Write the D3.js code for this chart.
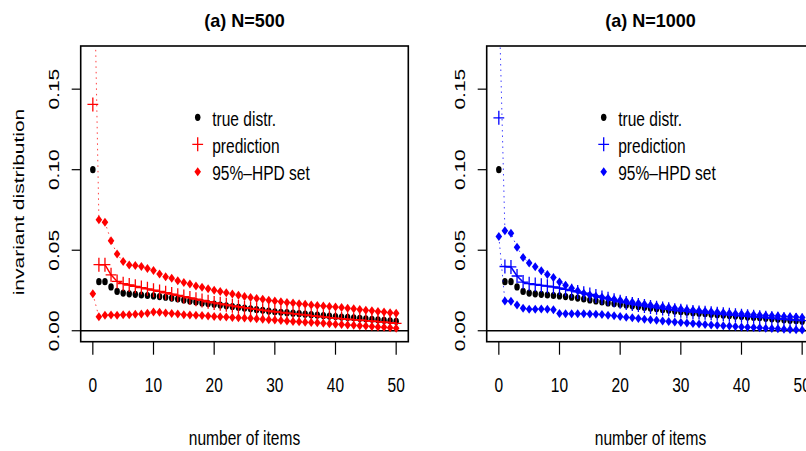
<!DOCTYPE html>
<html>
<head>
<meta charset="utf-8">
<script src="https://cdn.jsdelivr.net/npm/d3@7"></script>
<style>
  html, body { margin: 0; padding: 0; background: #ffffff; }
  svg { display: block; }
  text { font-family: "Liberation Sans", Arial, Helvetica, sans-serif; fill: #000; }
</style>
</head>
<body>
<svg id="chart" width="806" height="451"></svg>
<script>
// ---- data -------------------------------------------------------------
const items = d3.range(0, 51);

// true invariant distribution (same in both panels)
const trueDistr = [
  0.1000, 0.0305, 0.0305, 0.0272, 0.0244, 0.0234, 0.0229, 0.0226, 0.0222, 0.0219,
  0.0216, 0.0212, 0.0208, 0.0203, 0.0197, 0.0191, 0.0185, 0.0179, 0.0173, 0.0169,
  0.0165, 0.0160, 0.0155, 0.0150, 0.0145, 0.0140, 0.0136, 0.0131, 0.0127, 0.0122,
  0.0118, 0.0115, 0.0112, 0.0109, 0.0106, 0.0103, 0.0100, 0.0097, 0.0094, 0.0091,
  0.0088, 0.0085, 0.0083, 0.0080, 0.0077, 0.0074, 0.0071, 0.0068, 0.0065, 0.0062,
  0.0059
];

// N = 500
const predN500 = [
  0.1405, 0.0410, 0.0410, 0.0347, 0.0306, 0.0292, 0.0284, 0.0276, 0.0268, 0.0260,
  0.0252, 0.0244, 0.0236, 0.0228, 0.0220, 0.0212, 0.0204, 0.0196, 0.0188, 0.0180,
  0.0173, 0.0167, 0.0161, 0.0155, 0.0149, 0.0143, 0.0138, 0.0133, 0.0128, 0.0123,
  0.0118, 0.0114, 0.0110, 0.0106, 0.0102, 0.0098, 0.0094, 0.0090, 0.0086, 0.0082,
  0.0078, 0.0075, 0.0072, 0.0069, 0.0066, 0.0063, 0.0060, 0.0057, 0.0054, 0.0050,
  0.0046
];
const upperN500 = [
  0.2700, 0.0689, 0.0673, 0.0559, 0.0476, 0.0430, 0.0409, 0.0405, 0.0399, 0.0386,
  0.0374, 0.0353, 0.0336, 0.0326, 0.0311, 0.0299, 0.0291, 0.0278, 0.0270, 0.0260,
  0.0252, 0.0244, 0.0236, 0.0228, 0.0220, 0.0213, 0.0207, 0.0201, 0.0195, 0.0189,
  0.0184, 0.0180, 0.0176, 0.0172, 0.0168, 0.0164, 0.0160, 0.0157, 0.0154, 0.0151,
  0.0147, 0.0144, 0.0140, 0.0136, 0.0132, 0.0128, 0.0124, 0.0120, 0.0116, 0.0112,
  0.0108
];
const lowerN500 = [
  0.0229, 0.0087, 0.0097, 0.0098, 0.0097, 0.0099, 0.0100, 0.0102, 0.0104, 0.0108,
  0.0116, 0.0115, 0.0110, 0.0107, 0.0104, 0.0100, 0.0098, 0.0096, 0.0094, 0.0091,
  0.0089, 0.0087, 0.0085, 0.0083, 0.0081, 0.0079, 0.0077, 0.0074, 0.0072, 0.0069,
  0.0067, 0.0064, 0.0061, 0.0058, 0.0056, 0.0053, 0.0051, 0.0049, 0.0046, 0.0044,
  0.0041, 0.0039, 0.0036, 0.0034, 0.0031, 0.0029, 0.0026, 0.0024, 0.0021, 0.0019,
  0.0016
];

// N = 1000
const predN1000 = [
  0.1322, 0.0399, 0.0396, 0.0340, 0.0302, 0.0292, 0.0287, 0.0282, 0.0277, 0.0272,
  0.0265, 0.0257, 0.0249, 0.0241, 0.0233, 0.0225, 0.0216, 0.0207, 0.0198, 0.0189,
  0.0180, 0.0173, 0.0166, 0.0160, 0.0154, 0.0148, 0.0143, 0.0138, 0.0133, 0.0128,
  0.0124, 0.0120, 0.0117, 0.0114, 0.0111, 0.0108, 0.0105, 0.0102, 0.0099, 0.0096,
  0.0093, 0.0090, 0.0087, 0.0084, 0.0081, 0.0078, 0.0075, 0.0072, 0.0069, 0.0066,
  0.0063
];
const upperN1000 = [
  0.2100, 0.0621, 0.0606, 0.0519, 0.0455, 0.0421, 0.0397, 0.0372, 0.0350, 0.0330,
  0.0303, 0.0282, 0.0264, 0.0249, 0.0233, 0.0222, 0.0214, 0.0208, 0.0202, 0.0196,
  0.0190, 0.0183, 0.0177, 0.0171, 0.0165, 0.0159, 0.0154, 0.0149, 0.0144, 0.0139,
  0.0135, 0.0131, 0.0127, 0.0124, 0.0121, 0.0118, 0.0115, 0.0112, 0.0109, 0.0106,
  0.0104, 0.0102, 0.0099, 0.0097, 0.0095, 0.0093, 0.0091, 0.0089, 0.0087, 0.0085,
  0.0083
];
const lowerN1000 = [
  0.0585, 0.0184, 0.0183, 0.0160, 0.0140, 0.0134, 0.0134, 0.0135, 0.0133, 0.0131,
  0.0107, 0.0106, 0.0106, 0.0105, 0.0105, 0.0104, 0.0103, 0.0101, 0.0097, 0.0093,
  0.0088, 0.0084, 0.0080, 0.0076, 0.0072, 0.0069, 0.0065, 0.0061, 0.0058, 0.0054,
  0.0051, 0.0048, 0.0045, 0.0042, 0.0039, 0.0036, 0.0034, 0.0031, 0.0029, 0.0026,
  0.0024, 0.0022, 0.0020, 0.0018, 0.0016, 0.0014, 0.0012, 0.0010, 0.0008, 0.0006,
  0.0005
];

const panelTitles = ["(a) N=500", "(a) N=1000"];
const panelColors = ["#ff0000", "#0000ff"];
const xTicks = [0, 10, 20, 30, 40, 50];
const yTicks = [0, 0.05, 0.10, 0.15];
const yTickLabels = ["0.00", "0.05", "0.10", "0.15"];
const legendLabels = ["true distr.", "prediction", "95%\u2013HPD set"];
const xAxisTitle = "number of items";
const yAxisTitle = "invariant distribution";

const panels = [
  { title: panelTitles[0], color: panelColors[0], pred: predN500,  upper: upperN500,  lower: lowerN500,  yTitle: true },
  { title: panelTitles[1], color: panelColors[1], pred: predN1000, upper: upperN1000, lower: lowerN1000, yTitle: false }
];

// ---- layout -----------------------------------------------------------
const svg = d3.select("#chart");
const panelShift = 406;
const box = { left: 80.7, right: 408.3, top: 46, bottom: 341.7 };
const TXT = 0.74;           // horizontal compression of the lettering

function label(g, x, y, str, opt = {}) {
  const size = opt.size || 21, sx = opt.sx || TXT;
  let tr = `translate(${x},${y}) scale(${sx},1)`;
  if (opt.rotate) tr += ` rotate(${opt.rotate})`;
  return g.append("text")
    .attr("transform", tr)
    .attr("text-anchor", opt.anchor || "middle")
    .attr("font-size", size)
    .attr("font-weight", opt.weight || "normal")
    .text(str);
}

// marker shapes (slightly taller than wide, like the lettering)
function dot(g, cx, cy, fill) {
  g.append("ellipse").attr("cx", cx).attr("cy", cy).attr("rx", 2.75).attr("ry", 3.6).attr("fill", fill);
}
function diamond(g, cx, cy, fill) {
  const w = 3.3, h = 4.5;
  g.append("path")
    .attr("d", `M${cx},${cy - h}L${cx + w},${cy}L${cx},${cy + h}L${cx - w},${cy}Z`)
    .attr("fill", fill);
}
function plus(g, cx, cy, stroke) {
  const w = 5.4, h = 7;
  g.append("path")
    .attr("d", `M${cx - w},${cy}H${cx + w}M${cx},${cy - h}V${cy + h}`)
    .attr("stroke", stroke).attr("stroke-width", 1.3).attr("fill", "none");
}

panels.forEach((p, k) => {
  const off = k * panelShift;
  const g = svg.append("g");

  const x = d3.scaleLinear().domain([-2, 52]).range([box.left + off, box.right + off]);
  const y = d3.scaleLinear().domain([-0.0068, 0.1768]).range([box.bottom, box.top]);

  const clipId = "clip" + k;
  svg.append("clipPath").attr("id", clipId).append("rect")
    .attr("x", box.left + off).attr("y", box.top)
    .attr("width", box.right - box.left).attr("height", box.bottom - box.top);
  const plot = g.append("g").attr("clip-path", `url(#${clipId})`);

  // reference line at zero
  plot.append("line")
    .attr("x1", box.left + off).attr("x2", box.right + off)
    .attr("y1", y(0)).attr("y2", y(0))
    .attr("stroke", "#000").attr("stroke-width", 1.3);

  // true distribution
  items.forEach(i => dot(plot, x(i), y(trueDistr[i]), "#000"));

  // prediction: connected line from item 1 on, plus a marker at every item
  const line = d3.line().x(i => x(i)).y(i => y(p.pred[i]));
  plot.append("path").attr("d", line(items.slice(1)))
    .attr("fill", "none").attr("stroke", p.color).attr("stroke-width", 1.5);
  items.forEach(i => plus(plot, x(i), y(p.pred[i]), p.color));

  // 95% HPD bounds: dotted connecting lines with filled diamonds
  [p.upper, p.lower].forEach(arr => {
    const l = d3.line().x(i => x(i)).y(i => y(arr[i]));
    plot.append("path").attr("d", l(items))
      .attr("fill", "none").attr("stroke", p.color).attr("stroke-opacity", 0.75)
      .attr("stroke-width", 1).attr("stroke-dasharray", "1.5,4");
    items.forEach(i => { if (arr[i] <= 0.1768) diamond(plot, x(i), y(arr[i]), p.color); });
  });

  // frame
  g.append("rect")
    .attr("x", box.left + off).attr("y", box.top)
    .attr("width", box.right - box.left).attr("height", box.bottom - box.top)
    .attr("fill", "none").attr("stroke", "#000").attr("stroke-width", 1.6);

  // x axis ticks and labels
  xTicks.forEach(t => {
    g.append("line").attr("x1", x(t)).attr("x2", x(t))
      .attr("y1", box.bottom).attr("y2", box.bottom + 13)
      .attr("stroke", "#000").attr("stroke-width", 1.2);
    label(g, x(t), 391.7, String(t));
  });

  // y axis ticks and rotated labels
  yTicks.forEach((t, j) => {
    g.append("line").attr("x1", box.left + off - 9).attr("x2", box.left + off)
      .attr("y1", y(t)).attr("y2", y(t))
      .attr("stroke", "#000").attr("stroke-width", 1.2);
    label(g, 58.5 + off, y(t), yTickLabels[j], { rotate: -90, sx: 0.72 });
  });

  // titles
  const cx = (box.left + box.right) / 2 + off;
  label(g, cx, 26.5, p.title, { size: 19, weight: "bold", sx: 0.95 });
  label(g, cx, 445, xAxisTitle);
  if (p.yTitle) label(g, 24, 202, yAxisTitle, { rotate: -90, sx: 0.72 });

  // legend
  const lx = 197.7 + off, ly = [117.3, 144.3, 171.7];
  dot(g, lx, ly[0], "#000");
  plus(g, lx, ly[1], p.color);
  diamond(g, lx, ly[2], p.color);
  legendLabels.forEach((s, j) => label(g, lx + 14.5, ly[j] + 8.3, s, { anchor: "start" }));
});
</script>
</body>
</html>
